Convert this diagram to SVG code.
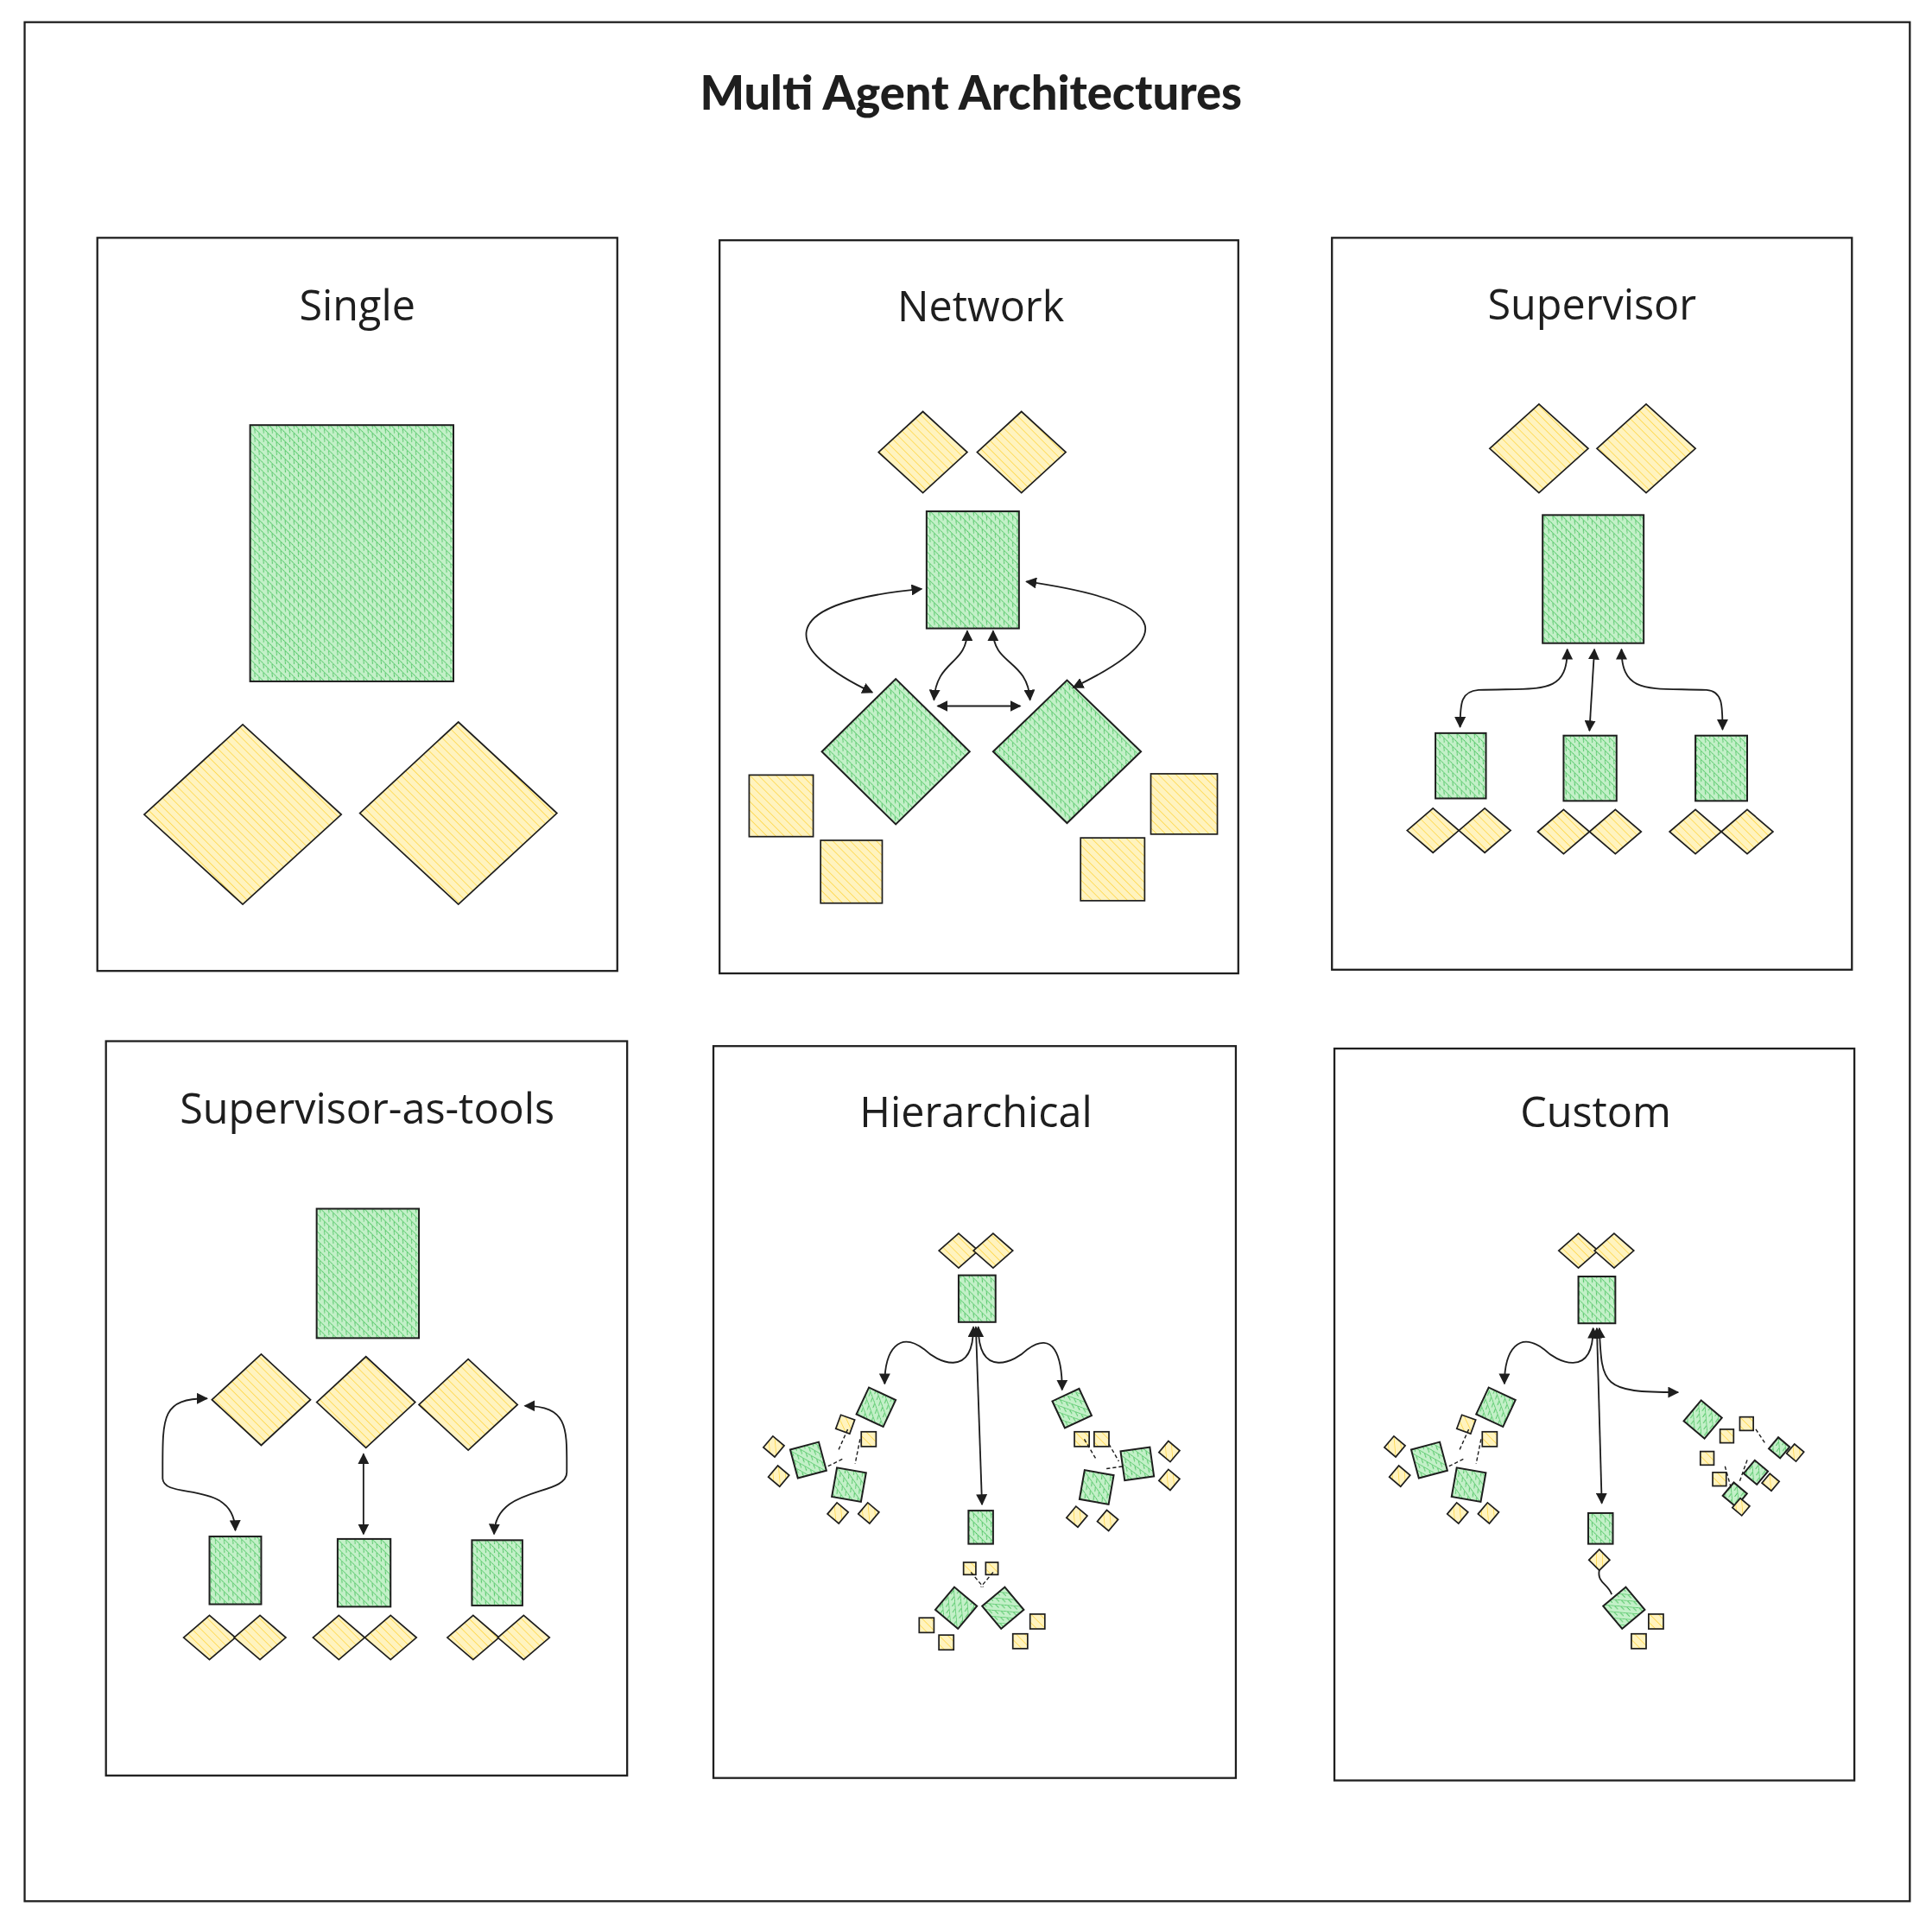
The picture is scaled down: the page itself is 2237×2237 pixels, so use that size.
<svg xmlns="http://www.w3.org/2000/svg" width="2237" height="2237" viewBox="0 0 2237 2237">
<defs>
<pattern id="gh" width="5" height="5" patternUnits="userSpaceOnUse" patternTransform="rotate(40)"><rect width="5" height="5" fill="#c3f0c8"/><line x1="0" y1="0" x2="0" y2="5" stroke="#40c057" stroke-width="1.1"/></pattern>
<pattern id="g" width="5" height="5" patternUnits="userSpaceOnUse" patternTransform="rotate(-45)"><rect width="5" height="5" fill="url(#gh)"/><line x1="0" y1="0" x2="0" y2="5" stroke="#40c057" stroke-width="0.8"/></pattern>
<pattern id="y" width="5" height="5" patternUnits="userSpaceOnUse" patternTransform="rotate(-45)"><rect width="5" height="5" fill="#fff3bf"/><line x1="0" y1="0" x2="0" y2="5" stroke="#ffd43b" stroke-width="1"/></pattern>
<marker id="a" viewBox="0 0 10 10" refX="9" refY="5" markerWidth="7" markerHeight="7" orient="auto-start-reverse"><path d="M0,0 L10,5 L0,10 z" fill="#1e1e1e"/></marker>
<style>
.f{fill:none;stroke:#1e1e1e;stroke-width:1.6}
.gr{fill:url(#g);stroke:#1e1e1e;stroke-width:1.4}
.ye{fill:url(#y);stroke:#1e1e1e;stroke-width:1.2}
.t{font-family:"Open Sans",sans-serif;font-size:34px;fill:#1e1e1e;text-anchor:middle}
.c{fill:none;stroke:#1e1e1e;stroke-width:1.3}
.d{fill:none;stroke:#1e1e1e;stroke-width:1;stroke-dasharray:3 2}
</style>
</defs>
<rect width="2237" height="2237" fill="#fff"/>
<g transform="scale(1.42666)">
<rect class="f" x="20" y="18" width="1530" height="1525"/>
<text x="788" y="89" style="font-family:Lato,sans-serif;font-weight:900;font-size:38px;fill:#1e1e1e;text-anchor:middle">Multi Agent Architectures</text>

<g id="single">
<rect class="f" x="79" y="193" width="422" height="595"/>
<text class="t" x="290" y="260">Single</text>
<rect class="gr" x="203" y="345" width="165" height="208"/>
<polygon class="ye" points="117,661 197,588 277,661 197,734"/>
<polygon class="ye" points="292,660 372,586 452,660 372,734"/>
</g>

<g id="network">
<rect class="f" x="584" y="195" width="421" height="595"/>
<text class="t" x="796" y="261">Network</text>
<polygon class="ye" points="713,367 749,334 785,367 749,400"/>
<polygon class="ye" points="793,367 829,334 865,367 829,400"/>
<rect class="gr" x="752" y="415" width="75" height="95"/>
<polygon class="gr" points="667,610 727,551 787,610 727,669"/>
<polygon class="gr" points="806,610 866,552 926,610 866,668"/>
<rect class="ye" x="608" y="629" width="52" height="50"/>
<rect class="ye" x="666" y="682" width="50" height="51"/>
<rect class="ye" x="934" y="628" width="54" height="49"/>
<rect class="ye" x="877" y="680" width="52" height="51"/>
</g>

<g id="supervisor">
<rect class="f" x="1081" y="193" width="422" height="594"/>
<text class="t" x="1292" y="259">Supervisor</text>
<polygon class="ye" points="1209,364 1249,328 1289,364 1249,400"/>
<polygon class="ye" points="1296,364 1336,328 1376,364 1336,400"/>
<rect class="gr" x="1252" y="418" width="82" height="104"/>
<rect class="gr" x="1165" y="595" width="41" height="53"/>
<rect class="gr" x="1269" y="597" width="43" height="53"/>
<rect class="gr" x="1376" y="597" width="42" height="53"/>
<polygon class="ye" points="1142,674 1163,656 1184,674 1163,692"/>
<polygon class="ye" points="1184,674 1205,656 1226,674 1205,692"/>
<polygon class="ye" points="1248,675 1269,657 1290,675 1269,693"/>
<polygon class="ye" points="1290,675 1311,657 1332,675 1311,693"/>
<polygon class="ye" points="1355,675 1376,657 1397,675 1376,693"/>
<polygon class="ye" points="1397,675 1418,657 1439,675 1418,693"/>
</g>

<g id="supervisor-as-tools">
<rect class="f" x="86" y="845" width="423" height="596"/>
<text class="t" x="298" y="912">Supervisor-as-tools</text>
<rect class="gr" x="257" y="981" width="83" height="105"/>
<polygon class="ye" points="172,1136 212,1099 252,1136 212,1173"/>
<polygon class="ye" points="257,1138 297,1101 337,1138 297,1175"/>
<polygon class="ye" points="340,1140 380,1103 420,1140 380,1177"/>
<rect class="gr" x="170" y="1247" width="42" height="55"/>
<rect class="gr" x="274" y="1249" width="43" height="55"/>
<rect class="gr" x="383" y="1250" width="41" height="53"/>
<polygon class="ye" points="149,1329 170,1311 191,1329 170,1347"/>
<polygon class="ye" points="190,1329 211,1311 232,1329 211,1347"/>
<polygon class="ye" points="254,1329 275,1311 296,1329 275,1347"/>
<polygon class="ye" points="296,1329 317,1311 338,1329 317,1347"/>
<polygon class="ye" points="363,1329 384,1311 405,1329 384,1347"/>
<polygon class="ye" points="404,1329 425,1311 446,1329 425,1347"/>
</g>

<g id="hierarchical">
<rect class="f" x="579" y="849" width="424" height="594"/>
<text class="t" x="792" y="915">Hierarchical</text>
<polygon class="ye" points="762,1015 778,1001 794,1015 778,1029"/>
<polygon class="ye" points="790,1015 806,1001 822,1015 806,1029"/>
<rect class="gr" x="778" y="1035" width="30" height="38"/>
<rect class="gr" x="699" y="1130" width="24" height="24" transform="rotate(25 711 1142)"/>
<rect class="gr" x="644" y="1173" width="24" height="24" transform="rotate(-15 656 1185)"/>
<rect class="gr" x="677" y="1193" width="24" height="24" transform="rotate(10 689 1205)"/>
<rect class="ye" x="680" y="1150" width="12" height="12" transform="rotate(20 686 1156)"/>
<rect class="ye" x="699" y="1162" width="12" height="12"/>
<rect class="ye" x="622" y="1168" width="12" height="12" transform="rotate(40 628 1174)"/>
<rect class="ye" x="626" y="1192" width="12" height="12" transform="rotate(40 632 1198)"/>
<rect class="ye" x="674" y="1222" width="12" height="12" transform="rotate(40 680 1228)"/>
<rect class="ye" x="699" y="1222" width="12" height="12" transform="rotate(40 705 1228)"/>
<rect class="gr" x="858" y="1131" width="24" height="24" transform="rotate(-25 870 1143)"/>
<rect class="gr" x="911" y="1176" width="24" height="24" transform="rotate(-8 923 1188)"/>
<rect class="gr" x="878" y="1195" width="24" height="24" transform="rotate(10 890 1207)"/>
<rect class="ye" x="872" y="1162" width="12" height="12"/>
<rect class="ye" x="888" y="1162" width="12" height="12"/>
<rect class="ye" x="943" y="1172" width="12" height="12" transform="rotate(40 949 1178)"/>
<rect class="ye" x="943" y="1195" width="12" height="12" transform="rotate(40 949 1201)"/>
<rect class="ye" x="868" y="1225" width="12" height="12" transform="rotate(40 874 1231)"/>
<rect class="ye" x="893" y="1228" width="12" height="12" transform="rotate(40 899 1234)"/>
<rect class="gr" x="786" y="1226" width="20" height="27"/>
<rect class="gr" x="764" y="1293" width="24" height="24" transform="rotate(40 776 1305)"/>
<rect class="gr" x="802" y="1293" width="24" height="24" transform="rotate(-40 814 1305)"/>
<rect class="ye" x="782" y="1268" width="10" height="10"/>
<rect class="ye" x="800" y="1268" width="10" height="10"/>
<rect class="ye" x="746" y="1313" width="12" height="12"/>
<rect class="ye" x="762" y="1327" width="12" height="12"/>
<rect class="ye" x="836" y="1310" width="12" height="12"/>
<rect class="ye" x="822" y="1326" width="12" height="12"/>
</g>

<g id="custom">
<rect class="f" x="1083" y="851" width="422" height="594"/>
<text class="t" x="1295" y="915">Custom</text>
<polygon class="ye" points="1265,1015 1281,1001 1297,1015 1281,1029"/>
<polygon class="ye" points="1294,1015 1310,1001 1326,1015 1310,1029"/>
<rect class="gr" x="1281" y="1036" width="30" height="38"/>
<rect class="gr" x="1202" y="1130" width="24" height="24" transform="rotate(25 1214 1142)"/>
<rect class="gr" x="1148" y="1173" width="24" height="24" transform="rotate(-15 1160 1185)"/>
<rect class="gr" x="1180" y="1193" width="24" height="24" transform="rotate(10 1192 1205)"/>
<rect class="ye" x="1184" y="1150" width="12" height="12" transform="rotate(20 1190 1156)"/>
<rect class="ye" x="1203" y="1162" width="12" height="12"/>
<rect class="ye" x="1126" y="1168" width="12" height="12" transform="rotate(40 1132 1174)"/>
<rect class="ye" x="1130" y="1192" width="12" height="12" transform="rotate(40 1136 1198)"/>
<rect class="ye" x="1177" y="1222" width="12" height="12" transform="rotate(40 1183 1228)"/>
<rect class="ye" x="1202" y="1222" width="12" height="12" transform="rotate(40 1208 1228)"/>
<rect class="gr" x="1289" y="1228" width="20" height="25"/>
<rect class="ye" x="1292" y="1260" width="12" height="12" transform="rotate(45 1298 1266)"/>
<rect class="gr" x="1306" y="1293" width="24" height="24" transform="rotate(-40 1318 1305)"/>
<rect class="ye" x="1338" y="1310" width="12" height="12"/>
<rect class="ye" x="1324" y="1326" width="12" height="12"/>
<rect class="gr" x="1371" y="1141" width="22" height="22" transform="rotate(40 1382 1152)"/>
<rect class="gr" x="1438" y="1169" width="12" height="12" transform="rotate(40 1444 1175)"/>
<rect class="gr" x="1418" y="1188" width="14" height="14" transform="rotate(40 1425 1195)"/>
<rect class="gr" x="1401" y="1206" width="14" height="14" transform="rotate(40 1408 1213)"/>
<rect class="ye" x="1396" y="1160" width="11" height="11"/>
<rect class="ye" x="1412" y="1150" width="11" height="11"/>
<rect class="ye" x="1380" y="1178" width="11" height="11"/>
<rect class="ye" x="1390" y="1195" width="11" height="11"/>
<rect class="ye" x="1452" y="1174" width="10" height="10" transform="rotate(40 1457 1179)"/>
<rect class="ye" x="1432" y="1198" width="10" height="10" transform="rotate(40 1437 1203)"/>
<rect class="ye" x="1408" y="1218" width="10" height="10" transform="rotate(40 1413 1223)"/>
</g>

<g id="connectors">
<path class="c" marker-start="url(#a)" marker-end="url(#a)" d="M708,562 C640,530 620,490 748,478"/>
<path class="c" marker-start="url(#a)" marker-end="url(#a)" d="M833,472 C960,490 950,520 871,558"/>
<path class="c" marker-start="url(#a)" marker-end="url(#a)" d="M785,512 C785,540 760,535 758,568"/>
<path class="c" marker-start="url(#a)" marker-end="url(#a)" d="M806,512 C806,540 834,535 836,568"/>
<path class="c" marker-start="url(#a)" marker-end="url(#a)" d="M761,573 L828,573"/>
<path class="c" marker-start="url(#a)" marker-end="url(#a)" d="M1272,527 C1272,565 1250,558 1200,560 C1186,561 1185,570 1185,590"/>
<path class="c" marker-start="url(#a)" marker-end="url(#a)" d="M1294,527 L1290,593"/>
<path class="c" marker-start="url(#a)" marker-end="url(#a)" d="M1316,527 C1316,565 1340,558 1385,560 C1398,561 1398,572 1398,592"/>
<path class="c" marker-start="url(#a)" marker-end="url(#a)" d="M168,1135 C130,1135 132,1150 132,1200 C133,1218 190,1200 191,1242"/>
<path class="c" marker-start="url(#a)" marker-end="url(#a)" d="M295,1180 L295,1245"/>
<path class="c" marker-start="url(#a)" marker-end="url(#a)" d="M426,1141 C462,1141 460,1160 460,1195 C460,1215 402,1205 401,1245"/>
<path class="c" marker-start="url(#a)" marker-end="url(#a)" d="M790,1077 C790,1120 760,1105 750,1095 C730,1080 718,1095 718,1123"/>
<path class="c" marker-start="url(#a)" marker-end="url(#a)" d="M794,1077 C794,1120 824,1105 834,1095 C855,1080 862,1100 862,1128"/>
<path class="c" marker-start="url(#a)" marker-end="url(#a)" d="M792,1077 L797,1221"/>
<path class="d" d="M688,1160 L680,1178 M672,1190 L684,1184 M698,1168 L694,1188"/>
<path class="d" d="M880,1168 L890,1185 M900,1172 L908,1186 M898,1192 L912,1190"/>
<path class="d" d="M788,1276 L798,1288 M806,1276 L796,1288"/>
<path class="c" marker-start="url(#a)" marker-end="url(#a)" d="M1293,1078 C1293,1120 1263,1105 1253,1095 C1233,1080 1221,1095 1221,1123"/>
<path class="c" marker-start="url(#a)" marker-end="url(#a)" d="M1296,1078 L1300,1220"/>
<path class="c" marker-start="url(#a)" marker-end="url(#a)" d="M1298,1078 C1300,1125 1300,1130 1362,1130"/>
<path class="d" d="M1192,1160 L1184,1178 M1176,1190 L1188,1184 M1202,1168 L1198,1188"/>
<path class="c" d="M1298,1274 C1296,1285 1305,1285 1308,1294"/>
<path class="d" d="M1425,1160 L1433,1172 M1418,1185 L1412,1202 M1400,1190 L1405,1208"/>
</g>
</g>
</svg>
